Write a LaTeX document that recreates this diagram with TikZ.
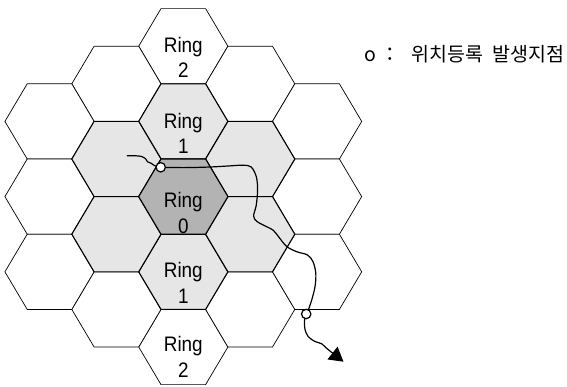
\documentclass[tikz,border=0pt]{standalone}
\usepackage{fontspec}
\setmainfont{Liberation Sans}
\newfontfamily\ringfont[FakeStretch=0.9]{Liberation Sans}
\newfontfamily\krfont{Noto Sans CJK KR}
\usetikzlibrary{arrows.meta}
\definecolor{ringzero}{RGB}{179,179,179}
\definecolor{ringone}{RGB}{230,230,230}
\newcommand\hexcell[3]{%
  \path[#3] ({#1-44.6},#2) -- ++(22.3,-37.6) -- ++(44.6,0) -- ++(22.3,37.6)
    -- ++(-22.3,37.6) -- ++(-44.6,0) -- cycle;}
\tikzset{
  ringtwo/.style={draw=black, fill=white, line width=0.7pt, line join=miter},
  ringonecell/.style={draw=black, fill=ringone, line width=1.1pt, line join=miter},
  ringzerocell/.style={draw=black, fill=ringzero, line width=1.1pt, line join=miter},
  ringlbl/.style={anchor=north, inner sep=0pt, align=center,
    font=\ringfont\fontsize{21}{25.5}\selectfont},
  track/.style={draw=black, line width=1.2pt, line cap=round, line join=round},
  regpoint/.style={circle, draw=black, fill=white, line width=1.2pt,
    minimum size=9.4pt, inner sep=0pt},
  legend/.style={anchor=base west, inner sep=0pt,
    font=\krfont\fontsize{19.5}{23}\selectfont}
}
\begin{document}
\begin{tikzpicture}[x=1pt,y=-1pt]
\useasboundingbox (0,0) rectangle (567,386);
% ring 2 cells
\foreach \cx/\cy in {183.3/46.2, 183.3/347, 116.4/83.8, 116.4/309.4,
  250.2/83.8, 250.2/309.4, 49.5/121.4, 49.5/196.6, 49.5/271.8,
  317.1/121.4, 317.1/196.6, 317.1/271.8}
  {\hexcell{\cx}{\cy}{ringtwo}}
% ring 1 cells
\foreach \cx/\cy in {183.3/121.4, 183.3/271.8, 116.4/159, 116.4/234.2,
  250.2/159, 250.2/234.2}
  {\hexcell{\cx}{\cy}{ringonecell}}
% ring 0 cell
\hexcell{183.3}{196.6}{ringzerocell}
% labels
\node[ringlbl] (l2a) at (183.3,37) {Ring\\2};
\node[ringlbl] (l1a) at (183.3,113) {Ring\\1};
\node[ringlbl] (l0) at (183.3,192.5) {Ring\\0};
\node[ringlbl] (l1b) at (183.3,262.5) {Ring\\1};
\node[ringlbl] (l2b) at (183.3,336.5) {Ring\\2};
% movement track
\coordinate (s) at (127.3,155.7);
\coordinate (e) at (343.5,361.7);
\coordinate (pAc) at (160.7,167.3);
\coordinate (pBc) at (306.2,314);
\draw[track] plot[smooth, tension=0.55] coordinates {(s) (136,155.8) (142,156.6)
  (145.5,158.6) (147.5,161.8) (151,163.2) (154.5,165.6) (pAc)};
\draw[track] plot[smooth, tension=0.55] coordinates {(pAc) (185,167.6) (210,167)
  (228,166) (243,165.2) (251.2,167) (256.3,176.7) (257.6,190) (256.2,205.5)
  (253.6,216) (257,221.5) (266.7,226.7) (273.3,230.3) (278.8,237) (286.7,246.5)
  (296.7,251.7) (307.5,255) (313,261.7) (315.8,273.3) (315,286.7) (311.7,300)
  (308.3,310) (pBc)};
\draw[track, -{Triangle[length=14pt,width=16pt]}] plot[smooth, tension=0.55]
  coordinates {(pBc) (304.6,320) (305,329.5) (308.3,336.7) (315,341.5)
  (321.7,343.8) (327,348.6) (e)};
\node[regpoint] (pA) at (pAc) {};
\node[regpoint] (pB) at (pBc) {};
% legend
\node[legend] (lg) at (364,61) {o\hspace{4pt}：\hspace{12pt}위치등록\hspace{9pt}발생지점};
\end{tikzpicture}
\end{document}
